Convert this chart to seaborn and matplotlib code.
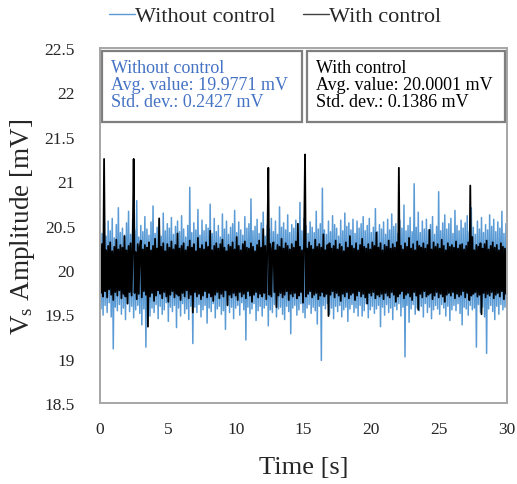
import numpy as np
import pandas as pd
import matplotlib
matplotlib.use("Agg")
import matplotlib.pyplot as plt
from matplotlib.patches import Rectangle
from matplotlib.lines import Line2D
import seaborn as sns

# ---------------- data (mV), sampled uniformly over 0..30 s ----------------
t_start, t_end = 0.0, 30.0

with_control = [
    20.24, 19.74, 20.29, 19.70, 21.25, 19.76, 20.22, 19.69, 20.27, 19.78,
    20.31, 19.72, 20.21, 19.66, 20.26, 19.75, 20.34, 19.71, 20.23, 19.77,
    20.28, 19.68, 20.25, 19.73, 20.38, 19.70, 20.22, 19.62, 20.27, 19.75,
    20.30, 19.71, 20.24, 21.25, 19.74, 20.20, 19.67, 20.29, 19.73, 20.26,
    20.33, 19.69, 20.23, 19.76, 20.28, 19.72, 20.25, 19.36, 20.31, 19.70,
    20.22, 19.74, 20.27, 19.65, 20.35, 19.71, 20.24, 19.77, 20.58, 19.73,
    20.26, 19.68, 20.30, 19.75, 20.21, 19.70, 20.29, 19.64, 20.25, 19.72,
    20.32, 19.76, 20.23, 19.69, 20.28, 19.73, 20.41, 19.71, 20.24, 19.66,
    20.27, 19.74, 20.30, 19.70, 20.22, 19.77, 20.26, 19.68, 20.33, 19.72,
    20.25, 19.52, 20.29, 19.75, 20.21, 19.70, 20.36, 19.73, 20.24, 19.67,
    20.28, 19.71, 20.23, 19.76, 20.31, 19.69, 20.26, 19.74, 20.44, 19.70,
    20.22, 19.65, 20.27, 19.72, 20.30, 19.75, 20.24, 19.68, 20.29, 19.73,
    20.34, 19.70, 20.25, 19.77, 20.21, 19.60, 20.28, 19.72, 20.26, 19.69,
    20.31, 19.74, 20.23, 19.71, 20.37, 19.66, 20.27, 19.75, 20.22, 19.70,
    20.29, 19.73, 20.32, 19.68, 20.25, 19.76, 20.24, 19.71, 20.30, 19.64,
    20.26, 19.72, 20.21, 19.75, 20.28, 19.69, 20.33, 19.73, 20.25, 19.70,
    20.46, 19.74, 20.27, 19.67, 20.23, 21.15, 19.72, 20.29, 19.70, 20.24,
    20.31, 19.75, 20.22, 19.58, 20.28, 19.71, 20.26, 19.74, 20.35, 19.69,
    20.24, 19.72, 20.30, 19.76, 20.27, 19.66, 20.23, 19.73, 20.29, 19.70,
    20.25, 19.74, 20.32, 19.68, 20.52, 19.71, 20.26, 19.75, 20.22, 19.63,
    20.28, 21.30, 19.70, 20.24, 19.73, 20.31, 19.76, 20.27, 19.69, 20.23,
    19.72, 20.34, 19.74, 20.26, 19.67, 20.29, 19.71, 20.25, 19.75, 20.40,
    19.70, 20.22, 19.73, 20.28, 19.48, 20.30, 19.72, 20.24, 19.76, 20.27,
    19.69, 20.33, 19.74, 20.23, 19.71, 20.29, 19.65, 20.26, 19.73, 20.21,
    19.70, 20.31, 19.75, 20.25, 19.68, 20.38, 19.72, 20.27, 19.74, 20.24,
    19.66, 20.30, 19.71, 20.22, 19.76, 20.28, 19.70, 20.35, 19.73, 20.26,
    19.69, 20.24, 19.62, 20.29, 19.74, 20.23, 19.71, 20.31, 19.75, 20.27,
    19.68, 20.42, 19.72, 20.25, 19.70, 20.30, 19.73, 20.22, 19.67, 20.28,
    19.74, 20.26, 19.71, 20.33, 19.69, 20.24, 19.75, 20.29, 19.72, 20.25,
    19.64, 20.31, 19.70, 21.15, 19.73, 20.27, 19.76, 20.23, 19.68, 20.30,
    19.72, 20.26, 19.74, 20.36, 19.70, 20.24, 19.66, 20.29, 19.75, 20.22,
    19.71, 20.32, 19.55, 20.27, 19.73, 20.25, 19.69, 20.30, 19.76, 20.24,
    19.70, 20.28, 19.72, 20.45, 19.74, 20.23, 19.67, 20.31, 19.71, 20.26,
    19.75, 20.29, 19.69, 20.24, 19.73, 20.34, 19.70, 20.27, 19.64, 20.22,
    19.72, 20.30, 19.74, 20.26, 19.71, 20.28, 19.75, 20.25, 19.68, 20.32,
    19.73, 20.24, 19.70, 20.28, 19.72, 20.29, 19.76, 20.23, 19.69, 20.27,
    19.74, 20.31, 19.66, 20.95, 19.71, 20.37, 19.73, 20.22, 19.75, 20.28,
    19.70, 20.26, 19.72, 20.30, 19.50, 20.24, 19.74, 20.29, 19.69, 20.33,
    19.73, 20.23, 19.71, 20.27, 19.75, 20.31, 19.68, 20.25, 19.72, 20.28,
    19.74, 20.22, 19.70, 20.30, 19.76, 20.26, 19.67, 20.24, 19.73, 20.29,
]

without_control = [
    20.48, 19.56, 20.41, 19.49, 20.62, 19.60, 20.38, 19.52, 20.55, 19.63,
    20.44, 19.47, 20.58, 19.11, 20.36, 19.58, 20.51, 19.54, 20.70, 19.61,
    20.42, 19.50, 20.47, 19.57, 20.39, 19.44, 20.53, 19.62, 20.66, 19.53,
    20.40, 19.59, 20.57, 19.46, 20.45, 19.55, 20.78, 19.60, 20.37, 19.51,
    20.50, 19.38, 20.43, 19.56, 20.60, 19.13, 20.46, 19.62, 20.39, 19.48,
    20.54, 19.57, 20.72, 19.52, 20.41, 19.61, 20.48, 19.45, 20.56, 19.59,
    20.38, 19.50, 20.64, 19.55, 20.44, 19.63, 20.52, 19.42, 20.47, 19.58,
    20.59, 19.53, 20.40, 19.60, 20.49, 19.35, 20.55, 19.57, 20.43, 19.48,
    20.61, 19.62, 20.46, 19.51, 20.37, 19.56, 20.50, 19.44, 20.93, 19.59,
    20.42, 19.17, 20.53, 19.58, 20.45, 19.52, 20.68, 19.61, 20.39, 19.47,
    20.56, 19.55, 20.44, 19.60, 20.51, 19.40, 20.47, 19.57, 20.74, 19.53,
    20.41, 19.62, 20.58, 19.46, 20.43, 19.56, 20.50, 19.59, 20.37, 19.50,
    20.63, 19.54, 20.46, 19.33, 20.55, 19.61, 20.40, 19.52, 20.48, 19.58,
    20.52, 19.45, 20.67, 19.57, 20.42, 19.60, 20.54, 19.49, 20.45, 19.63,
    20.39, 19.55, 20.60, 19.21, 20.47, 19.58, 20.52, 19.51, 20.80, 19.56,
    20.44, 19.62, 20.49, 19.43, 20.57, 19.54, 20.41, 19.59, 20.53, 19.48,
    20.65, 19.57, 20.38, 19.60, 20.50, 19.37, 20.46, 19.55, 20.58, 19.52,
    20.43, 19.61, 20.55, 19.47, 20.40, 19.56, 20.71, 19.58, 20.48, 19.50,
    20.53, 19.44, 20.45, 19.59, 20.62, 19.53, 20.42, 19.28, 20.51, 19.57,
    20.47, 19.60, 20.56, 19.49, 20.39, 19.55, 20.76, 19.62, 20.44, 19.52,
    20.58, 19.46, 20.50, 19.57, 20.41, 19.61, 20.54, 19.51, 20.48, 19.58,
    20.42, 19.54, 20.66, 19.39, 20.46, 19.59, 20.52, 18.98, 20.92, 19.60,
    20.45, 19.56, 20.40, 19.62, 20.55, 19.50, 20.43, 19.57, 20.61, 19.45,
    20.51, 19.59, 20.47, 19.53, 20.38, 19.60, 20.56, 19.47, 20.44, 19.55,
    20.64, 19.58, 20.49, 19.42, 20.53, 19.56, 20.45, 19.61, 20.57, 19.52,
    20.41, 19.57, 20.55, 19.48, 20.47, 19.60, 20.52, 19.48, 20.60, 19.54,
    20.44, 19.62, 20.50, 19.46, 20.58, 19.55, 20.42, 19.59, 20.48, 19.51,
    20.69, 19.56, 20.43, 19.60, 20.51, 19.36, 20.46, 19.58, 20.54, 19.49,
    20.40, 19.61, 20.57, 19.52, 20.45, 19.57, 20.63, 19.44, 20.49, 19.59,
    20.52, 19.55, 20.41, 19.62, 20.56, 19.48, 20.47, 19.58, 20.73, 19.02,
    20.44, 19.60, 20.50, 19.41, 20.59, 19.56, 20.43, 19.61, 20.97, 19.50,
    20.48, 19.57, 20.65, 19.54, 20.42, 19.59, 20.55, 19.47, 20.46, 19.62,
    20.57, 19.52, 20.45, 19.58, 20.51, 19.45, 20.60, 19.55, 20.40, 19.60,
    20.49, 19.56, 20.88, 19.50, 20.44, 19.61, 20.53, 19.57, 20.62, 19.48,
    20.46, 19.59, 20.52, 19.43, 20.58, 19.55, 20.41, 19.60, 20.67, 19.54,
    20.50, 19.62, 20.44, 19.51, 20.56, 19.38, 20.47, 19.58, 20.53, 19.56,
    20.61, 19.49, 20.43, 19.60, 20.70, 19.55, 20.48, 19.57, 20.40, 19.13,
    20.55, 19.61, 20.46, 19.52, 20.59, 19.58, 20.42, 19.47, 20.51, 19.06,
    20.45, 19.56, 20.62, 19.60, 20.49, 19.53, 20.57, 19.44, 20.43, 19.59,
    20.54, 19.50, 20.47, 19.61, 20.66, 19.55, 20.41, 19.58, 20.52, 19.57,
]

series_names = ["Without control", "With control"]
stats_without = ["Without control", "Avg. value: 19.9771 mV", "Std. dev.: 0.2427 mV"]
stats_with = ["With control", "Avg. value: 20.0001 mV", "Std. dev.: 0.1386 mV"]
x_ticks = [0, 5, 10, 15, 20, 25, 30]
y_ticks = [18.5, 19, 19.5, 20, 20.5, 21, 21.5, 22, 22.5]

# ---------------- styling ----------------
sns.set_theme(style="white")
plt.rcParams["font.family"] = ["Liberation Serif", "DejaVu Serif"]
plt.rcParams["mathtext.fontset"] = "custom"
plt.rcParams["mathtext.rm"] = "Liberation Serif"
plt.rcParams["mathtext.it"] = "Liberation Serif:italic"

blue = "#5B9BD5"
text_blue = "#4472C4"
black = "#000000"
frame_gray = "#A6A6A6"
text_col = "#262626"

t_wo = np.linspace(t_start, t_end, len(without_control))
t_w = np.linspace(t_start, t_end, len(with_control))
df = pd.concat([
    pd.DataFrame({"t": t_wo, "v": without_control, "series": series_names[0]}),
    pd.DataFrame({"t": t_w, "v": with_control, "series": series_names[1]}),
], ignore_index=True)

fig = plt.figure(figsize=(5.17, 4.85), dpi=100)
ax = fig.add_axes([100 / 517, 1 - 404 / 485, 407 / 517, 355 / 485])

sns.lineplot(data=df[df.series == series_names[0]], x="t", y="v", ax=ax,
             color=blue, lw=1.1, estimator=None, sort=False, legend=False)
sns.lineplot(data=df[df.series == series_names[1]], x="t", y="v", ax=ax,
             color=black, lw=1.3, estimator=None, sort=False, legend=False)

ax.set_xlim(0, 30)
ax.set_ylim(18.5, 22.5)
ax.set_xticks(x_ticks)
ax.set_xticklabels([str(v) for v in x_ticks])
ax.set_yticks(y_ticks)
ax.set_yticklabels([f"{v:g}" for v in y_ticks])
ax.tick_params(axis="both", length=0, labelsize=12.5, colors=text_col)
ax.tick_params(axis="y", pad=18)
ax.tick_params(axis="x", pad=13)
for s in ax.spines.values():
    s.set_color(frame_gray)
    s.set_linewidth(1.4)

ax.set_xlabel("Time [s]", fontsize=19, color=text_col)
ax.xaxis.set_label_coords(0.5, -0.148)
ax.set_ylabel(r"V$_\mathrm{s}$ Amplitude [mV]", fontsize=19.5, color=text_col)
ax.yaxis.set_label_coords(-0.155, 0.5)

# statistic boxes
box_specs = [
    (0.005, 0.496, stats_without, text_blue),
    (0.509, 0.995, stats_with, black),
]
for x0, x1, lines, col in box_specs:
    ax.add_patch(Rectangle((x0, 0.792), x1 - x0, 0.9915 - 0.792, transform=ax.transAxes,
                           fill=True, facecolor="white", edgecolor="#7F7F7F", lw=1.6, zorder=5))
    ax.text(x0 + 0.022, 0.968, "\n".join(lines), transform=ax.transAxes, ha="left", va="top",
            fontsize=13, color=col, linespacing=1.0, zorder=6)

# legend at top
handles = [Line2D([], [], color=blue, lw=1.0), Line2D([], [], color="#404040", lw=1.0)]
fig.legend(handles, series_names, loc="center", bbox_to_anchor=(275 / 517, 1 - 17 / 485),
           ncol=2, frameon=False, fontsize=16, handlelength=1.2, handletextpad=0.0,
           columnspacing=1.2, labelcolor=text_col)

fig.savefig("out.png", dpi=100)
